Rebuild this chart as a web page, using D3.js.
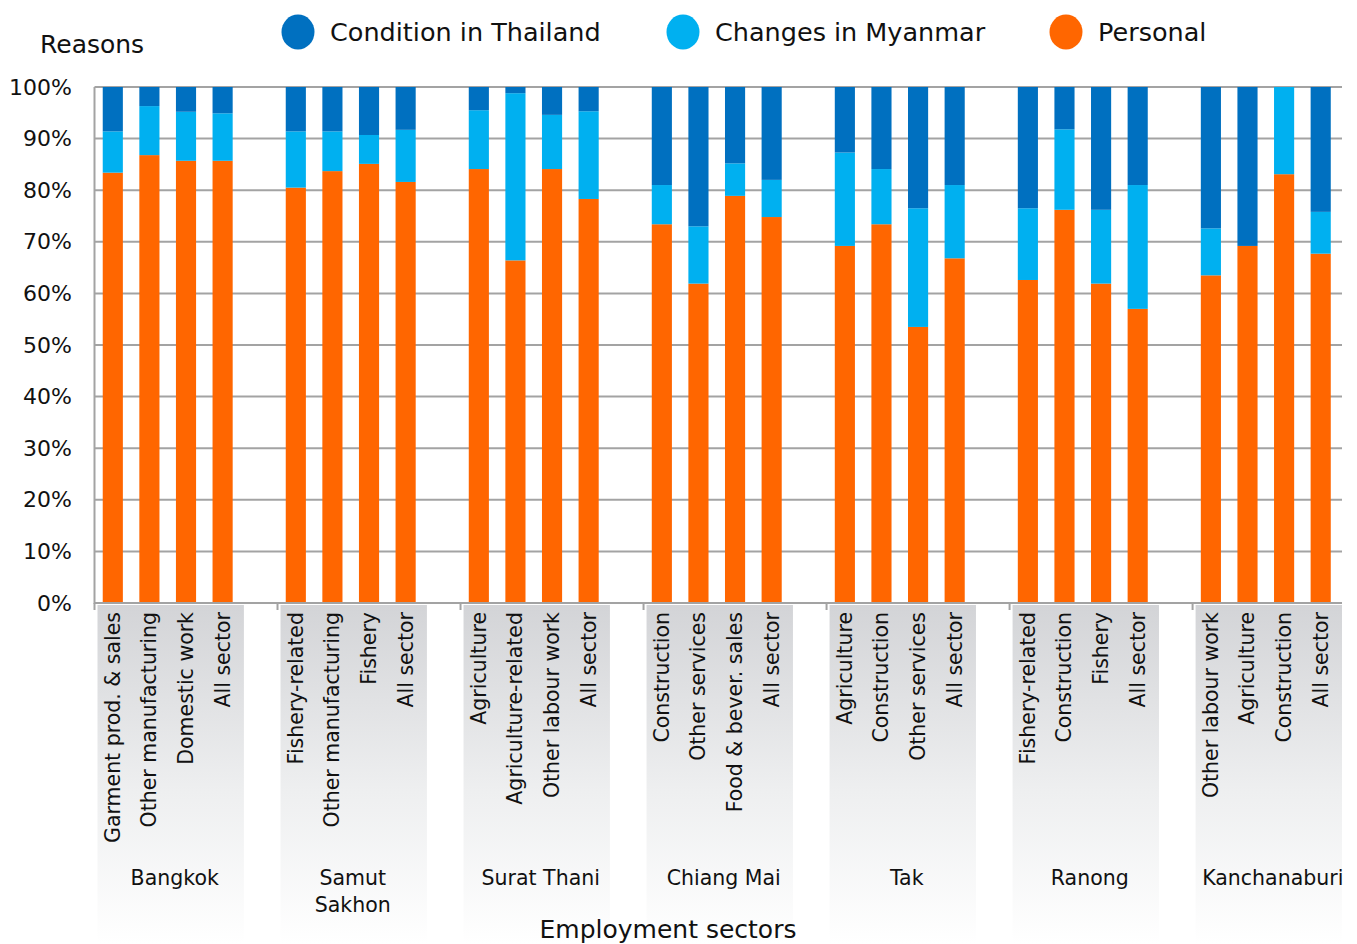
<!DOCTYPE html>
<html>
<head>
<meta charset="utf-8">
<script src="https://cdn.jsdelivr.net/npm/d3@7"></script>
<style>
  html, body { margin: 0; padding: 0; background: #fff; }
  svg { display: block; }
  text { font-family: "DejaVu Sans", "Open Sans", sans-serif; fill: #111; }
</style>
</head>
<body>
<svg id="chart" width="1357" height="944"></svg>
<script>
// ---- Data ----
const regions = ["Bangkok", "Samut Sakhon", "Surat Thani", "Chiang Mai", "Tak", "Ranong", "Kanchanaburi"];
const sectors = [
  "Garment prod. & sales", "Other manufacturing", "Domestic work", "All sector",
  "Fishery-related", "Other manufacturing", "Fishery", "All sector",
  "Agriculture", "Agriculture-related", "Other labour work", "All sector",
  "Construction", "Other services", "Food & bever. sales", "All sector",
  "Agriculture", "Construction", "Other services", "All sector",
  "Fishery-related", "Construction", "Fishery", "All sector",
  "Other labour work", "Agriculture", "Construction", "All sector"
];
const personal = [
  83.4, 86.8, 85.7, 85.7,
  80.5, 83.7, 85.1, 81.6,
  84.1, 66.4, 84.1, 78.3,
  73.4, 61.9, 78.9, 74.8,
  69.2, 73.4, 53.5, 66.8,
  62.6, 76.2, 61.9, 57.0,
  63.5, 69.2, 83.1, 67.7
];
const changesMyanmar = [
  8.0, 9.5, 9.5, 9.2,
  10.9, 7.7, 5.6, 10.1,
  11.4, 32.4, 10.5, 17.0,
  7.6, 11.1, 6.3, 7.2,
  18.1, 10.7, 23.0, 14.2,
  13.9, 15.6, 14.3, 24.0,
  9.1, 0.0, 16.9, 8.1
];
const conditionThailand = [
  8.6, 3.7, 4.8, 5.1,
  8.6, 8.6, 9.3, 8.3,
  4.5, 1.2, 5.4, 4.7,
  19.0, 27.0, 14.8, 18.0,
  12.7, 15.9, 23.5, 19.0,
  23.5, 8.2, 23.8, 19.0,
  27.4, 30.8, 0.0, 24.2
];
const seriesNames = ["Condition in Thailand", "Changes in Myanmar", "Personal"];
const yTicks = [0, 10, 20, 30, 40, 50, 60, 70, 80, 90, 100];
const perGroup = 4;

// ---- Layout ----
const colors = { personal: "#FF6600", changes: "#00B0F0", condition: "#0070C0" };
const legendColors = ["#0070C0", "#00B0F0", "#FF6600"];
const plotL = 94.5, plotR = 1339, plotT = 87, plotB = 603;

const svg = d3.select("#chart");

const rows = sectors.map((s, i) => ({
  key: "s" + i, sector: s, region: regions[Math.floor(i / perGroup)],
  personal: personal[i], changes: changesMyanmar[i], condition: conditionThailand[i]
}));
const domain = [];
regions.forEach((r, g) => {
  for (let j = 0; j < perGroup; j++) domain.push("s" + (g * perGroup + j));
  if (g < regions.length - 1) domain.push("gap" + g);
});

const x = d3.scaleBand().domain(domain).range([plotL, plotR]).paddingInner(0.45).paddingOuter(0.225);
const step = x.step();
const y = d3.scaleLinear().domain([0, 100]).range([plotB, plotT]);

const defs = svg.append("defs");
const grad = defs.append("linearGradient").attr("id", "bandGrad").attr("x1", 0).attr("y1", 0).attr("x2", 0).attr("y2", 1);
grad.append("stop").attr("offset", "0%").attr("stop-color", "#d3d4d7");
grad.append("stop").attr("offset", "55%").attr("stop-color", "#eeeff0");
grad.append("stop").attr("offset", "100%").attr("stop-color", "#ffffff");

const groupStart = g => x("s" + g * perGroup) - step * x.paddingInner() / 2;

svg.append("g").selectAll("rect").data(regions).join("rect")
  .attr("x", (d, g) => groupStart(g) + 3)
  .attr("y", plotB + 2)
  .attr("width", step * perGroup)
  .attr("height", 944 - plotB - 2)
  .attr("fill", "url(#bandGrad)");

svg.append("g").selectAll("line").data(yTicks.filter(t => t > 0)).join("line")
  .attr("x1", plotL).attr("x2", plotR + 3)
  .attr("y1", d => y(d)).attr("y2", d => y(d))
  .attr("stroke", "#a3a3a3").attr("stroke-width", 2);

const stack = d3.stack().keys(["personal", "changes", "condition"]);
const stacked = stack(rows);
svg.append("g").selectAll("g").data(stacked).join("g")
  .attr("fill", d => colors[d.key])
  .selectAll("rect").data(d => d).join("rect")
  .attr("x", d => x(d.data.key))
  .attr("width", x.bandwidth())
  .attr("y", d => y(d[1]))
  .attr("height", d => Math.max(0, y(d[0]) - y(d[1])));

svg.append("line").attr("x1", plotL).attr("x2", plotL).attr("y1", plotT).attr("y2", plotB + 1)
  .attr("stroke", "#a3a3a3").attr("stroke-width", 2);
svg.append("line").attr("x1", plotL).attr("x2", plotR + 3).attr("y1", plotB).attr("y2", plotB)
  .attr("stroke", "#a3a3a3").attr("stroke-width", 2);
svg.append("g").selectAll("line").data(regions).join("line")
  .attr("x1", (d, g) => groupStart(g)).attr("x2", (d, g) => groupStart(g))
  .attr("y1", plotB).attr("y2", plotB + 7)
  .attr("stroke", "#a3a3a3").attr("stroke-width", 2);

svg.append("g").selectAll("text").data(yTicks).join("text")
  .attr("x", 72).attr("y", d => y(d))
  .attr("text-anchor", "end").attr("dominant-baseline", "central")
  .attr("font-size", 22)
  .text(d => d + "%");

svg.append("g").selectAll("text").data(rows).join("text")
  .attr("transform", d => `translate(${x(d.key) + x.bandwidth() / 2},612) rotate(-90)`)
  .attr("text-anchor", "end").attr("dominant-baseline", "central")
  .attr("font-size", 20.5)
  .text(d => d.sector);

const regionLabels = svg.append("g");
regions.forEach((r, g) => {
  const words = r === "Samut Sakhon" ? ["Samut", "Sakhon"] : [r];
  const cx = groupStart(g) + step * perGroup / 2 + (words.length > 1 ? 2 : 7);
  words.forEach((w, k) => {
    regionLabels.append("text")
      .attr("x", cx).attr("y", 885 + k * 27)
      .attr("text-anchor", "middle")
      .attr("font-size", 20.5)
      .text(w);
  });
});

svg.append("text").attr("x", 668).attr("y", 938).attr("text-anchor", "middle")
  .attr("font-size", 25).text("Employment sectors");

svg.append("text").attr("x", 40).attr("y", 53).attr("font-size", 25).text("Reasons");

const legendX = [298, 683, 1066];
const legend = svg.append("g");
seriesNames.forEach((s, i) => {
  legend.append("ellipse").attr("cx", legendX[i]).attr("cy", 32).attr("rx", 16.5).attr("ry", 17.5)
    .attr("fill", legendColors[i]);
  legend.append("text").attr("x", legendX[i] + 32).attr("y", 32)
    .attr("dominant-baseline", "central").attr("font-size", 25.5).text(s);
});
</script>
</body>
</html>
